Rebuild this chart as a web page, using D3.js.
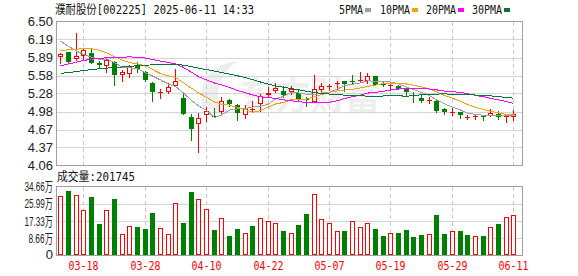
<!DOCTYPE html>
<html><head><meta charset="utf-8">
<script src="https://cdn.jsdelivr.net/npm/d3@7/dist/d3.min.js"></script>
<style>body{margin:0;background:#fff}svg{display:block}</style>
</head><body>
<script>
// ---------- data ----------
const dates = ["03-13","03-14","03-17","03-18","03-19","03-20","03-21","03-24","03-25","03-26",
  "03-27","03-28","03-31","04-01","04-02","04-03","04-07","04-08","04-09","04-10",
  "04-11","04-14","04-15","04-16","04-17","04-18","04-21","04-22","04-23","04-24",
  "04-25","04-28","04-29","04-30","05-06","05-07","05-08","05-09","05-12","05-13",
  "05-14","05-15","05-16","05-19","05-20","05-21","05-22","05-23","05-26","05-27",
  "05-28","05-29","05-30","06-03","06-04","06-05","06-06","06-09","06-10","06-11"];
const open  = [5.90,5.98,5.86,5.92,5.96,5.80,5.75,5.82,5.59,5.61, 5.77,5.64,5.46,5.29,5.31,5.41,5.21,4.89,4.76,4.91,
  4.90,4.96,5.17,5.08,4.91,5.00,5.10,5.26,5.33,5.32, 5.30,5.28,5.19,5.14,5.34,5.40,5.44,5.49,5.49,5.50,
  5.50,5.58,5.44,5.41,5.41,5.36,5.25,5.21,5.15,5.16, 5.01,4.96,4.96,4.88,4.89,4.91,4.90,4.94,4.89,4.89];
const high  = [5.96,5.99,6.31,6.04,6.04,5.83,5.87,5.83,5.68,5.76, 5.81,5.66,5.48,5.36,5.46,5.69,5.27,4.94,4.95,5.05,
  5.04,5.22,5.19,5.11,5.09,5.16,5.27,5.39,5.45,5.40, 5.40,5.34,5.22,5.59,5.45,5.44,5.50,5.50,5.60,5.64,
  5.63,5.58,5.49,5.47,5.43,5.37,5.31,5.26,5.22,5.18, 5.04,5.03,4.96,4.91,4.94,4.91,5.01,4.99,4.90,5.00];
const low   = [5.80,5.79,5.85,5.87,5.80,5.71,5.65,5.43,5.50,5.56, 5.65,5.50,5.16,5.21,5.28,5.40,4.93,4.49,4.29,4.81,
  4.88,4.93,5.06,4.83,4.87,4.96,4.98,5.22,5.30,5.22, 5.27,5.17,5.06,5.13,5.30,5.34,5.36,5.32,5.45,5.47,
  5.46,5.42,5.40,5.34,5.36,5.24,5.14,5.13,5.12,4.96, 4.94,4.92,4.86,4.85,4.85,4.83,4.90,4.85,4.79,4.83];
const close = [5.95,5.81,5.92,6.01,5.80,5.76,5.84,5.59,5.64,5.74, 5.69,5.51,5.30,5.31,5.39,5.49,4.94,4.68,4.86,4.99,
  4.89,5.15,5.11,4.95,5.03,5.01,5.23,5.29,5.37,5.26, 5.35,5.18,5.17,5.35,5.40,5.41,5.46,5.44,5.48,5.51,
  5.58,5.43,5.42,5.43,5.36,5.30,5.24,5.16,5.17,4.99, 4.96,4.97,4.91,4.89,4.90,4.89,4.95,4.89,4.90,4.94];
const volume = [299000,325000,304000,228000,294000,159000,228000,284000,106500,150500,
  142000,132000,215000,140000,106500,264000,164000,321000,286000,232000,
  127000,186000,96000,132000,115000,147000,186000,171000,161000,122000,
  115000,152000,208000,309000,181000,161000,125000,122000,171000,145000,
  161000,135000,96000,112000,113000,127000,91000,102000,107000,203000,
  107000,125000,122000,102000,100000,96000,145000,157000,191000,201745];
// moving-average values before enough visible closes exist
const ma5Head  = [6.17,6.08,6.00,5.94];
const ma10Head = [6.01,6.02,6.03,6.04,6.04,6.01,5.97,5.905,5.845];
const ma20Head = [5.75,5.78,5.81,5.84,5.86,5.875,5.885,5.89,5.895,5.90,5.895,5.88,5.855,5.83,5.805,5.785,5.72,5.64,5.565];
const ma30Head = [5.62,5.635,5.65,5.67,5.685,5.70,5.71,5.72,5.73,5.74,5.75,5.76,5.765,5.77,5.775,5.775,5.76,5.735,5.71,
  5.685,5.66,5.635,5.61,5.58,5.55,5.515,5.475,5.44,5.41];
const priceTicks = [4.06,4.365,4.67,4.975,5.28,5.585,5.89,6.195,6.50];
const priceTickLabels = ["4.06","4.37","4.67","4.98","5.28","5.58","5.89","6.19","6.50"];
const volTicks = [0,86650,173300,259950,346600];
const volTickLabels = ["0","8.66万","17.33万","25.99万","34.66万"];
const xTickDates = ["03-18","03-28","04-10","04-22","05-07","05-19","05-29","06-11"];
const titleText = "濮耐股份[002225] 2025-06-11 14:33";
const volTitle = "成交量:201745";
const legendNames = ["5PMA","10PMA","20PMA","30PMA"];
const maPeriods = [5,10,20,30];

// ---------- drawing ----------
const W=578,H=276;
const RED="#ff0000", GREEN="#008000", BORDER="#a0a0a0", GRID="#d4d4d4";
const maColors=["#9e9e9e","#f2a20c","#ff00ff","#06753a"];
const L=56.5,R=522.5,pT=21.5,pB=165.5,vT=186.5,vB=255.5;
const MONO="'DejaVu Sans Mono','Noto Sans CJK SC',monospace";
const svg=d3.select("body").append("svg").attr("width",W).attr("height",H);

const x=d3.scaleBand().domain(dates).range([56.9,517.6]).padding(0);
const cx=i=>Math.floor(x(dates[i])+x.bandwidth()/2)+0.5;
const yP=d3.scaleLinear().domain([4.06,6.50]).range([pB,pT]);
const yV=d3.scaleLinear().domain([0,346600]).range([vB,vT]);

// watermark
const wm=svg.append("g").attr("fill","#eeeeee");
wm.append("path").attr("d","M203,108 C196,86 208,64 238,61 C222,72 214,88 220,110 Z");
wm.append("text").attr("x",240).attr("y",109).attr("font-size",38).attr("font-weight","bold")
  .attr("font-family","'Noto Sans CJK SC'").attr("textLength",140).attr("lengthAdjust","spacingAndGlyphs").text("东方财富");

// horizontal grids
const g=svg.append("g").attr("shape-rendering","crispEdges");
g.selectAll(".hp").data(priceTicks.slice(1,-1)).join("line")
  .attr("x1",L).attr("x2",R).attr("y1",d=>Math.round(yP(d))+0.5).attr("y2",d=>Math.round(yP(d))+0.5)
  .attr("stroke",GRID);
g.selectAll(".hv").data(volTicks.slice(1,-1)).join("line").attr("class","hv")
  .attr("x1",L).attr("x2",R).attr("y1",d=>Math.round(yV(d))+0.5).attr("y2",d=>Math.round(yV(d))+0.5)
  .attr("stroke",GRID);
// vertical dashed grids
const xi=xTickDates.map(d=>dates.indexOf(d));
[[pT,pB],[vT,vB]].forEach(([a,b])=>{
  g.append("g").selectAll("line").data(xi).join("line")
    .attr("x1",i=>cx(i)).attr("x2",i=>cx(i)).attr("y1",a).attr("y2",b)
    .attr("stroke","#c8c8c8").attr("stroke-dasharray","4,3");
});

// candles
const cg=svg.append("g").attr("shape-rendering","crispEdges");
dates.forEach((d,i)=>{
  const up=close[i]>=open[i], col=up?RED:GREEN, c=cx(i);
  cg.append("line").attr("x1",c).attr("x2",c)
    .attr("y1",Math.round(yP(high[i]))).attr("y2",Math.round(yP(low[i]))+1).attr("stroke",col);
  const top=Math.round(yP(Math.max(open[i],close[i]))), bot=Math.round(yP(Math.min(open[i],close[i])));
  const h=bot-top;
  if(h<2){
    cg.append("rect").attr("x",c-2.5).attr("y",top).attr("width",5).attr("height",1).attr("fill",col);
  } else if(up){
    cg.append("rect").attr("x",c-2).attr("y",top+0.5).attr("width",4).attr("height",h-1)
      .attr("fill","#fff").attr("stroke",col);
  } else {
    cg.append("rect").attr("x",c-2.5).attr("y",top).attr("width",5).attr("height",h).attr("fill",col);
  }
});

// volume bars
const vg=svg.append("g").attr("shape-rendering","crispEdges");
dates.forEach((d,i)=>{
  const up=i===0?close[i]>=open[i]:close[i]>=close[i-1], c=cx(i);
  const top=Math.round(yV(volume[i]));
  if(up){
    vg.append("rect").attr("x",c-2).attr("y",top+0.5).attr("width",4).attr("height",255-top-1)
      .attr("fill","#fff").attr("stroke",RED);
  } else {
    vg.append("rect").attr("x",c-2.5).attr("y",top).attr("width",5).attr("height",255-top).attr("fill",GREEN);
  }
});

// moving averages
const maHeads=[ma5Head,ma10Head,ma20Head,ma30Head];
maPeriods.forEach((n,k)=>{
  const vals=close.map((c,i)=> i<n-1 ? maHeads[k][i] : d3.mean(close.slice(i-n+1,i+1)));
  svg.append("path").attr("d",d3.line().x((v,i)=>cx(i)).y(v=>yP(v))(vals))
    .attr("fill","none").attr("stroke",maColors[k]).attr("stroke-width",1).attr("shape-rendering","crispEdges");
});

// frames
const fr=svg.append("g").attr("shape-rendering","crispEdges").attr("fill","none").attr("stroke",BORDER);
fr.append("rect").attr("x",L).attr("y",pT).attr("width",R-L).attr("height",pB-pT);
fr.append("rect").attr("x",L).attr("y",vT).attr("width",R-L).attr("height",vB-vT);

// text helpers
function txt(s,x0,y0,opt){
  const t=svg.append("text").attr("x",x0).attr("y",y0).text(s)
    .attr("font-size",opt.size||12).attr("font-family",opt.family||MONO).attr("fill",opt.fill||"#222");
  if(opt.anchor) t.attr("text-anchor",opt.anchor);
  if(opt.len) t.attr("textLength",opt.len).attr("lengthAdjust","spacingAndGlyphs");
  return t;
}
const halfw=s=>[...s].reduce((a,ch)=>a+(ch.charCodeAt(0)>255?2:1),0);

// title & legend
txt(titleText,55,13.5,{size:12,len:199,fill:"#111"});
const legX=[339,380,426,472];
legendNames.forEach((n,k)=>{
  txt(n,legX[k],13.5,{size:12,len:halfw(n)*6,fill:"#111"});
  svg.append("rect").attr("x",legX[k]+halfw(n)*6+2).attr("y",8).attr("width",6).attr("height",4).attr("fill",maColors[k]);
});

// price axis labels
priceTicks.forEach((v,k)=>{
  txt(priceTickLabels[k],53,yP(v)+4.5,{size:13,family:"'Liberation Sans',Arial,sans-serif",anchor:"end",fill:"#222"});
});
// volume axis labels
volTicks.forEach((v,k)=>{
  const s=volTickLabels[k];
  const len=[...s].reduce((a,ch)=>a+(ch.charCodeAt(0)>255?9:3.9),0);
  const t=txt(s,53,Math.min(yV(v),254)+4.5,{size:13,family:"'Liberation Sans','Noto Sans CJK SC',sans-serif",anchor:"end",fill:"#222"});
  if(s.length>1) t.attr("textLength",len).attr("lengthAdjust","spacingAndGlyphs");
});
txt(volTitle,57,180.5,{size:12,len:halfw(volTitle)*6,fill:"#111"});

// x labels
xi.forEach((i,k)=>{
  txt(xTickDates[k],cx(i),270,{size:12,len:30,anchor:"middle",fill:RED});
});
</script>
</body></html>
